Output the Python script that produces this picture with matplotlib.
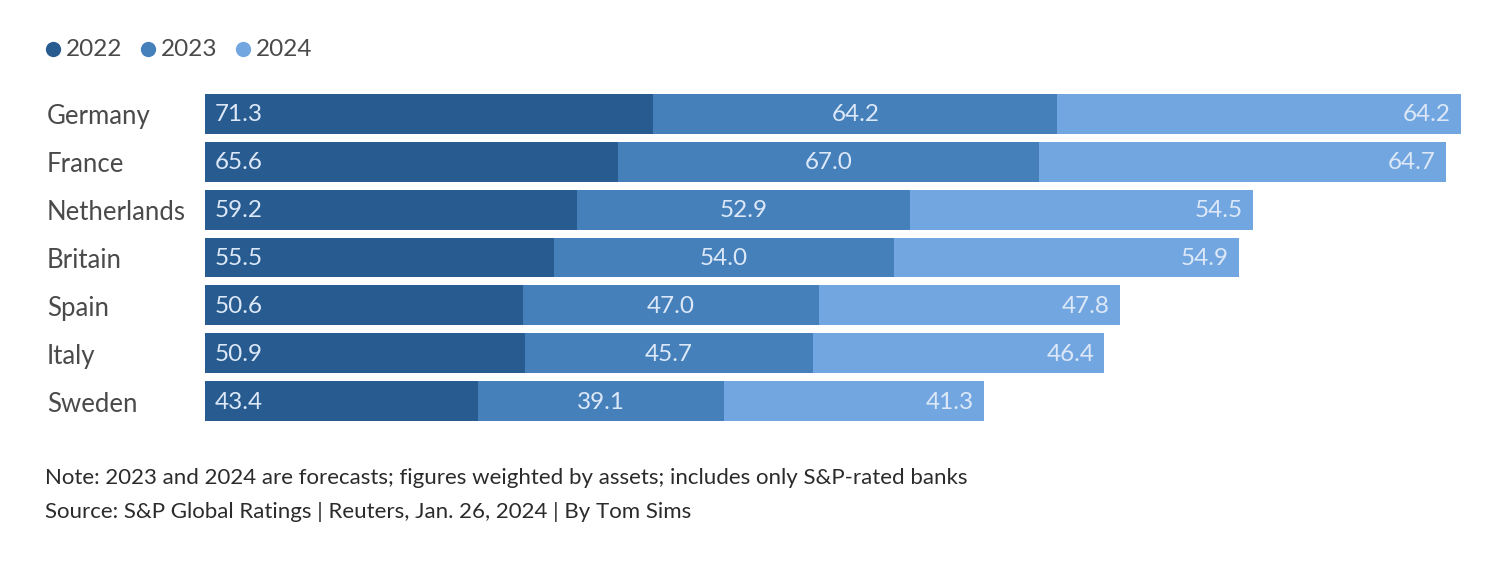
import matplotlib
matplotlib.use("Agg")
import matplotlib.pyplot as plt
from matplotlib.lines import Line2D

countries = ["Germany", "France", "Netherlands", "Britain", "Spain", "Italy", "Sweden"]
v2022 = [71.3, 65.6, 59.2, 55.5, 50.6, 50.9, 43.4]
v2023 = [64.2, 67.0, 52.9, 54.0, 47.0, 45.7, 39.1]
v2024 = [64.2, 64.7, 54.5, 54.9, 47.8, 46.4, 41.3]
years = ["2022", "2023", "2024"]
colors = ["#285b8f", "#4580bb", "#72a6e0"]
note = "Note: 2023 and 2024 are forecasts; figures weighted by assets; includes only S&P-rated banks"
source = "Source: S&P Global Ratings | Reuters, Jan. 26, 2024 | By Tom Sims"

plt.rcParams['font.family'] = ['Lato', 'DejaVu Sans']

W, H = 1500, 575
fig = plt.figure(figsize=(W / 100, H / 100), dpi=100)
left_px, right_px = 205, 1463
top_px, bot_px = 90, 425
ax = fig.add_axes([left_px / W, 1 - bot_px / H, (right_px - left_px) / W, (bot_px - top_px) / H])
ax.set_xlim(0, 200)
ax.set_ylim(len(countries) - 0.5, -0.5)
ax.axis("off")

ys = list(range(len(countries)))
lab_col = "#dce8f8"
fs = 17.5
dy = -1
for i, y in enumerate(ys):
    a, b, c = v2022[i], v2023[i], v2024[i]
    ax.barh(y, a, left=0, height=0.83, color=colors[0], linewidth=0)
    ax.barh(y, b, left=a, height=0.83, color=colors[1], linewidth=0)
    ax.barh(y, c, left=a + b, height=0.83, color=colors[2], linewidth=0)
    ax.annotate(f"{a:.1f}", (0, y), xytext=(10, dy), textcoords="offset pixels",
                ha="left", va="center", color=lab_col, fontsize=fs)
    ax.annotate(f"{b:.1f}", (a + b / 2, y), xytext=(0, dy), textcoords="offset pixels",
                ha="center", va="center", color=lab_col, fontsize=fs)
    ax.annotate(f"{c:.1f}", (a + b + c, y), xytext=(-10, dy), textcoords="offset pixels",
                ha="right", va="center", color=lab_col, fontsize=fs)
    ax.annotate(countries[i], (0, y), xytext=(47 - left_px, -3), textcoords="offset pixels",
                ha="left", va="center", color="#4a4a4a", fontsize=18.5,
                annotation_clip=False)

# legend
lx = [53, 148, 243]
for x, yr, col in zip(lx, years, colors):
    fig.add_artist(Line2D([x / W], [1 - 49 / H], marker="o", markersize=11,
                          color=col, markeredgewidth=0, transform=fig.transFigure))
    fig.text((x + 13) / W, 1 - 50 / H, yr, ha="left", va="center", color="#4a4a4a",
             fontsize=fs)

fig.text(45 / W, 1 - 478 / H, note, ha="left", va="center", color="#2b2b2b", fontsize=16)
fig.text(45 / W, 1 - 512 / H, source, ha="left", va="center", color="#2b2b2b", fontsize=16)

fig.savefig("out.png", dpi=100, facecolor="white")
